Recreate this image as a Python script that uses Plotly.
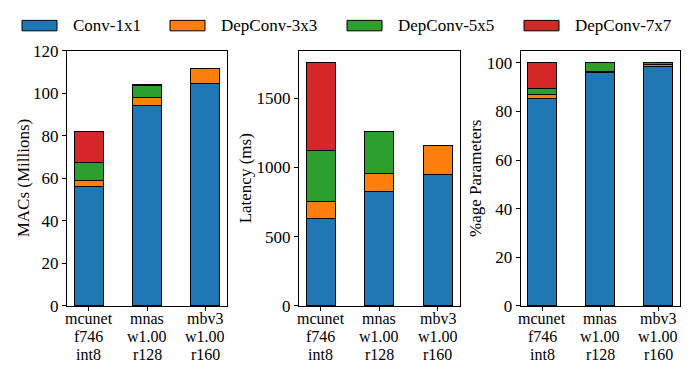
import plotly.graph_objects as go

# ---------------- data ----------------
models = ["mcunet-f746-int8", "mnas-w1.00-r128", "mbv3-w1.00-r160"]
tick_lines = [["mcunet", "f746", "int8"], ["mnas", "w1.00", "r128"], ["mbv3", "w1.00", "r160"]]
series_names = ["Conv-1x1", "DepConv-3x3", "DepConv-5x5", "DepConv-7x7"]
colors = ["#1f77b4", "#ff7f0e", "#2ca02c", "#d62728"]

macs_conv1x1 = [56.1, 94.3, 104.8]
macs_dw3x3 = [3.0, 3.8, 6.7]
macs_dw5x5 = [8.2, 5.6, 0.0]
macs_dw7x7 = [14.7, 0.2, 0.0]

lat_conv1x1 = [632, 829, 946]
lat_dw3x3 = [119, 124, 210]
lat_dw5x5 = [369, 304, 0]
lat_dw7x7 = [636, 0, 0]

par_conv1x1 = [85.3, 96.0, 98.6]
par_dw3x3 = [1.6, 0.6, 0.9]
par_dw5x5 = [2.6, 3.4, 0.5]
par_dw7x7 = [10.5, 0.0, 0.0]

y_titles = ["MACs (Millions)", "Latency (ms)", "%age Parameters"]
y_ranges = [[0, 120], [0, 1843], [0, 105]]
y_ticks = [[0, 20, 40, 60, 80, 100, 120], [0, 500, 1000, 1500], [0, 20, 40, 60, 80, 100]]

panels = [
    [macs_conv1x1, macs_dw3x3, macs_dw5x5, macs_dw7x7],
    [lat_conv1x1, lat_dw3x3, lat_dw5x5, lat_dw7x7],
    [par_conv1x1, par_dw3x3, par_dw5x5, par_dw7x7],
]

# ---------------- layout geometry ----------------
W, H = 687, 370
x_domains = [[67 / W, 227 / W], [299 / W, 459.5 / W], [520.7 / W, 680 / W]]
y_domain = [(H - 313) / H, (H - 44) / H]
title_x = [23, 245, 475.7]
FONT = "Liberation Serif"

fig = go.Figure()
for p, series in enumerate(panels):
    xa = "x" if p == 0 else f"x{p+1}"
    ya = "y" if p == 0 else f"y{p+1}"
    for s, vals in enumerate(series):
        fig.add_trace(go.Bar(
            x=[0, 1, 2], y=vals, width=0.5, name=series_names[s],
            marker=dict(color=colors[s], line=dict(color="black", width=1)),
            xaxis=xa, yaxis=ya, showlegend=False,
        ))

axis_common = dict(showline=True, linecolor="black", linewidth=1, mirror=True,
                   ticks="outside", ticklen=4, tickwidth=1, tickcolor="black",
                   showgrid=False, zeroline=False,
                   tickfont=dict(family=FONT, size=17, color="black"))

layout = dict(
    width=W, height=H, margin=dict(l=0, r=0, t=0, b=0),
    paper_bgcolor="white", plot_bgcolor="white", barmode="stack",
    font=dict(family=FONT, size=17, color="black"),
    showlegend=False,
)
for p in range(3):
    xk = "xaxis" if p == 0 else f"xaxis{p+1}"
    yk = "yaxis" if p == 0 else f"yaxis{p+1}"
    xa = "x" if p == 0 else f"x{p+1}"
    ya = "y" if p == 0 else f"y{p+1}"
    layout[xk] = dict(axis_common, domain=x_domains[p], range=[-0.375, 2.375],
                      tickvals=[0, 1, 2], showticklabels=False, anchor=ya)
    layout[yk] = dict(axis_common, domain=y_domain, range=y_ranges[p],
                      tickvals=y_ticks[p], anchor=xa)
fig.update_layout(**layout)

annotations = []
# y-axis titles
for p in range(3):
    annotations.append(dict(
        x=title_x[p] / W, xref="paper", y=(y_domain[0] + y_domain[1]) / 2, yref="paper",
        text=y_titles[p], textangle=-90, showarrow=False,
        xanchor="center", yanchor="middle",
        font=dict(family=FONT, size=17, color="black")))

# x tick labels (three lines each)
line_ys = [325.8, 344.8, 363.8]
for p in range(3):
    xa = "x" if p == 0 else f"x{p+1}"
    for i, lines in enumerate(tick_lines):
        for j, txt in enumerate(lines):
            annotations.append(dict(
                x=i, xref=xa, y=(H - line_ys[j]) / H, yref="paper",
                text=txt, showarrow=False, xanchor="center", yanchor="middle",
                height=17, borderpad=0,
                font=dict(family=FONT, size=16, color="black")))

# legend (drawn as patches + labels)
patch_x = [22, 170, 347, 524]
shapes = []
for k, name in enumerate(series_names):
    x0 = patch_x[k]
    shapes.append(dict(type="rect", xref="paper", yref="paper",
                       x0=x0 / W, x1=(x0 + 35) / W, y0=(H - 23) / H, y1=(H - 12) / H,
                       fillcolor=colors[k], line=dict(color="black", width=1)))
    annotations.append(dict(x=(x0 + 49) / W, xref="paper", y=(H - 17.5) / H, yref="paper",
                            text=name, showarrow=False, xanchor="left", yanchor="middle",
                            font=dict(family=FONT, size=17, color="black")))
fig.update_layout(annotations=annotations, shapes=shapes)

fig.write_html("out.html", config={"displayModeBar": False},
               post_script="document.body.style.margin='0';document.body.style.padding='0';")
